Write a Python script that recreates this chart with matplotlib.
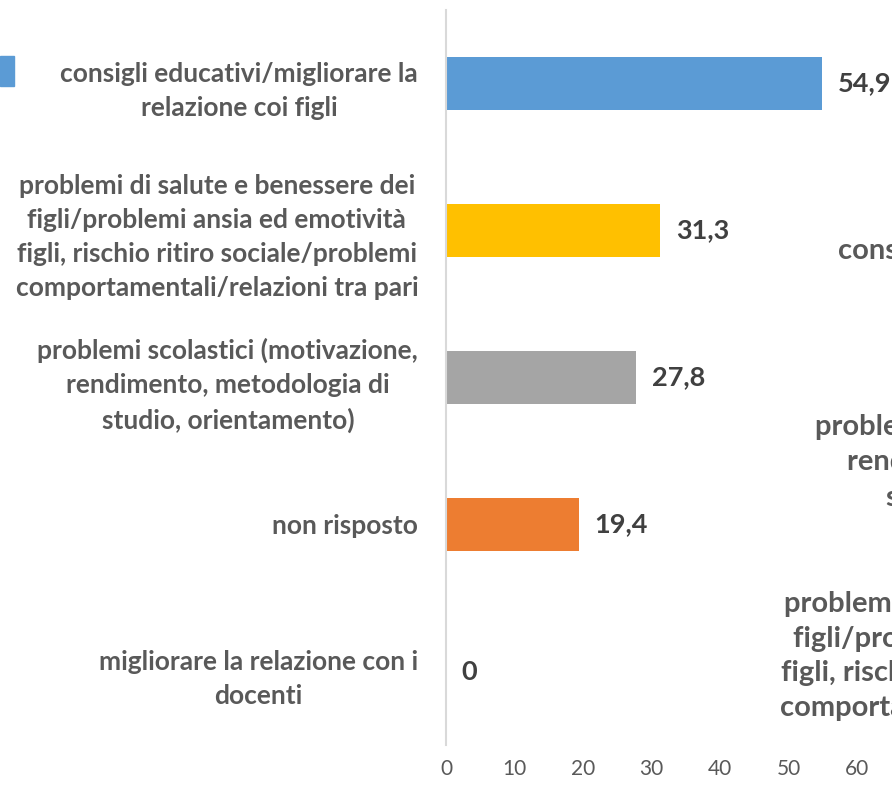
import matplotlib.pyplot as plt
from matplotlib.patches import Rectangle

plt.rcParams["font.family"] = ["Lato", "DejaVu Sans"]

# data of the chart
categories = [
    "consigli educativi/migliorare la\nrelazione coi figli",
    "problemi di salute e benessere dei\nfigli/problemi ansia ed emotività\nfigli, rischio ritiro sociale/problemi\ncomportamentali/relazioni tra pari",
    "problemi scolastici (motivazione,\nrendimento, metodologia di\nstudio, orientamento)",
    "non risposto",
    "migliorare la relazione con i\ndocenti",
]
values = [54.9, 31.3, 27.8, 19.4, 0]
value_labels = ["54,9", "31,3", "27,8", "19,4", "0"]
bar_colors = ["#5B9BD5", "#FFC000", "#A5A5A5", "#ED7D31", "#ED7D31"]
x_ticks = [0, 10, 20, 30, 40, 50, 60]

# labels of the neighbouring chart, cut off at the right edge
right_labels = [categories[0], categories[2], categories[1]]

W, H = 892, 792
fig = plt.figure(figsize=(W / 100, H / 100), dpi=100)

ax_left, ax_right = 446, 857
ax_top, ax_bottom = 10, 745
ax = fig.add_axes([ax_left / W, 1 - ax_bottom / H, (ax_right - ax_left) / W, (ax_bottom - ax_top) / H])

ypos = list(range(len(values)))
ax.barh(ypos, values, height=0.355, color=bar_colors)
ax.set_xlim(0, 60)
ax.set_ylim(len(values) - 0.5, -0.5)

for y, v, lab in zip(ypos, values, value_labels):
    ax.annotate(lab, (v, y), xytext=(11, 0), textcoords="offset points",
                va="center", ha="left", fontsize=19.5, fontweight="bold",
                color="#404040", annotation_clip=False)

ax.set_yticks(ypos)
ax.set_yticklabels(categories, multialignment="center", fontsize=19,
                   fontweight="bold", color="#595959", linespacing=1.5)
ax.set_xticks(x_ticks)
ax.set_xticklabels([str(t) for t in x_ticks], fontsize=15, color="#595959")
ax.tick_params(axis="both", length=0)
ax.tick_params(axis="y", pad=20)
ax.tick_params(axis="x", pad=10)

for s in ["top", "right", "bottom"]:
    ax.spines[s].set_visible(False)
ax.spines["left"].set_color("#D9D9D9")
ax.spines["left"].set_linewidth(1.5)

# neighbouring chart pieces
fig.patches.append(Rectangle((0, 1 - 86 / H), 14 / W, 30 / H, transform=fig.transFigure,
                             color="#5B9BD5"))
right_pos = [(838, 268), (815, 462), (780, 656)]
for lab, (x, y) in zip(right_labels, right_pos):
    fig.text(x / W, 1 - y / H, lab, ha="left", va="center", multialignment="center",
             fontsize=21, fontweight="bold", color="#595959", linespacing=1.42)

fig.savefig("out.png", dpi=100)
